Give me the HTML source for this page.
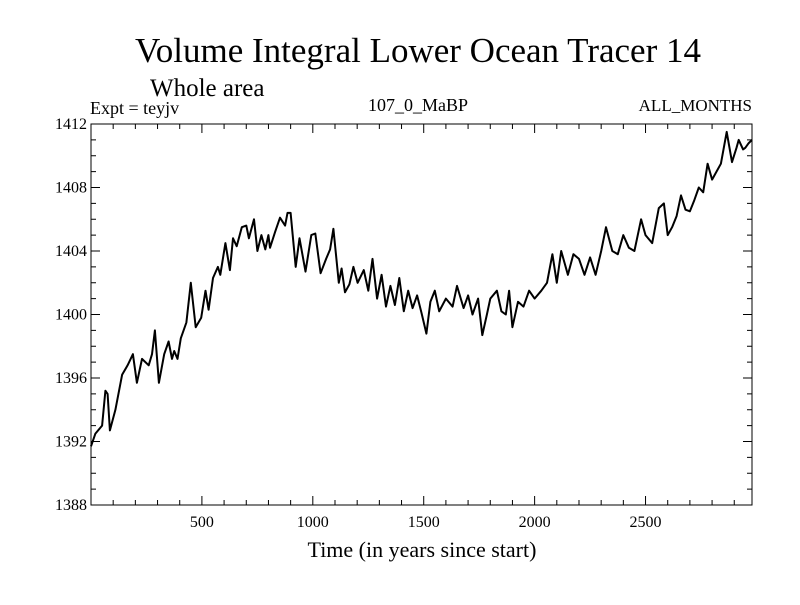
<!DOCTYPE html>
<html><head><meta charset="utf-8"><style>
body{margin:0;background:#fff;}
svg text{font-family:"Liberation Serif",serif;fill:#000;}
</style></head><body>
<svg width="800" height="600" xmlns="http://www.w3.org/2000/svg">
<text x="418" y="62" font-size="35" text-anchor="middle">Volume Integral Lower Ocean Tracer 14</text>
<text x="150" y="96" font-size="25">Whole area</text>
<text x="90" y="114" font-size="18">Expt = teyjv</text>
<text x="418" y="111" font-size="18" text-anchor="middle">107_0_MaBP</text>
<text x="752" y="111" font-size="17" text-anchor="end">ALL_MONTHS</text>
<text x="422" y="557" font-size="22" text-anchor="middle">Time (in years since start)</text>
<g id="axes"></g>
<g id="plot"></g>
</svg>
<script>
const years=[0,20,50,65,75,85,110,140,165,189,207,230,260,275,288,306,330,350,365,375,390,405,430,450,472,497,516,530,550,572,583,606,626,640,657,680,700,712,735,750,768,786,800,807,830,852,875,886,900,923,940,967,993,1011,1035,1060,1078,1093,1117,1130,1145,1165,1183,1202,1230,1250,1269,1290,1310,1330,1350,1370,1390,1410,1430,1450,1470,1490,1512,1530,1550,1570,1600,1630,1650,1680,1700,1720,1745,1764,1785,1800,1830,1850,1870,1885,1900,1925,1950,1975,2000,2030,2056,2080,2100,2120,2150,2175,2200,2225,2250,2275,2300,2322,2350,2375,2400,2425,2450,2480,2500,2530,2560,2583,2600,2620,2640,2660,2680,2700,2720,2740,2760,2780,2800,2820,2840,2866,2890,2910,2920,2940,2950,2965,2980];
const values=[1391.7,1392.5,1393,1395.2,1395,1392.7,1394,1396.2,1396.8,1397.5,1395.7,1397.2,1396.8,1397.5,1399,1395.7,1397.5,1398.3,1397.2,1397.7,1397.2,1398.5,1399.5,1402,1399.2,1399.8,1401.5,1400.3,1402.3,1403,1402.5,1404.5,1402.8,1404.8,1404.3,1405.5,1405.6,1404.8,1406,1404,1405,1404.1,1405,1404.2,1405.2,1406.1,1405.6,1406.4,1406.4,1403,1404.8,1402.7,1405,1405.1,1402.6,1403.5,1404.1,1405.4,1402,1402.9,1401.4,1401.9,1403,1402,1402.8,1401.5,1403.5,1401,1402.5,1400.5,1401.8,1400.6,1402.3,1400.2,1401.5,1400.4,1401.2,1400.1,1398.8,1400.8,1401.5,1400.2,1401,1400.5,1401.8,1400.4,1401.2,1400,1401,1398.7,1400,1401,1401.5,1400.2,1400,1401.5,1399.2,1400.8,1400.5,1401.5,1401,1401.5,1402,1403.8,1402,1404,1402.5,1403.8,1403.5,1402.5,1403.6,1402.5,1404,1405.5,1404,1403.8,1405,1404.2,1404,1406,1405,1404.5,1406.7,1407,1405,1405.5,1406.2,1407.5,1406.6,1406.5,1407.2,1408,1407.7,1409.5,1408.5,1409,1409.5,1411.5,1409.6,1410.5,1411,1410.4,1410.5,1410.8,1411,1411.5];
const xTicks=[500,1000,1500,2000,2500];
const yTicks=[1388,1392,1396,1400,1404,1408,1412];
const L=91,R=752,T=124,B=505,X0=0,X1=2980,Y0=1388,Y1=1412;
const sx=v=>L+(v-X0)/(X1-X0)*(R-L);
const sy=v=>B-(v-Y0)/(Y1-Y0)*(B-T);
const NS="http://www.w3.org/2000/svg";
const ax=document.getElementById('axes'),pl=document.getElementById('plot');
function mk(tag,attrs,parent){const e=document.createElementNS(NS,tag);for(const k in attrs)e.setAttribute(k,attrs[k]);parent.appendChild(e);return e;}
const frame=mk('rect',{x:L,y:T,width:R-L,height:B-T,fill:'none',stroke:'#000','stroke-width':1},ax);


let d='';
for(let v=100;v<X1;v+=100){const big=v%500===0;const l=big?9:5;const x=sx(v);d+=`M${x},${B}v${-l}M${x},${T}v${l}`;}
for(let v=Y0+1;v<Y1;v++){const big=(v-Y0)%4===0;const l=big?9:5;const y=sy(v);d+=`M${L},${y}h${l}M${R},${y}h${-l}`;}
const tk=mk('path',{d:d,stroke:'#000','stroke-width':1,fill:'none'},ax);


xTicks.forEach(v=>{const t=mk('text',{x:sx(v),y:B+22,'font-size':16,'text-anchor':'middle'},ax);t.textContent=v;

});
yTicks.forEach(v=>{const t=mk('text',{x:L-4,y:sy(v)+5,'font-size':16,'text-anchor':'end'},ax);t.textContent=v;

});
const pts=years.map((y,i)=>sx(y).toFixed(1)+','+sy(values[i]).toFixed(1)).join(' ');
const line=mk('polyline',{points:pts,fill:'none',stroke:'#000','stroke-width':2,'stroke-linejoin':'round'},pl);


</script>
</body></html>
